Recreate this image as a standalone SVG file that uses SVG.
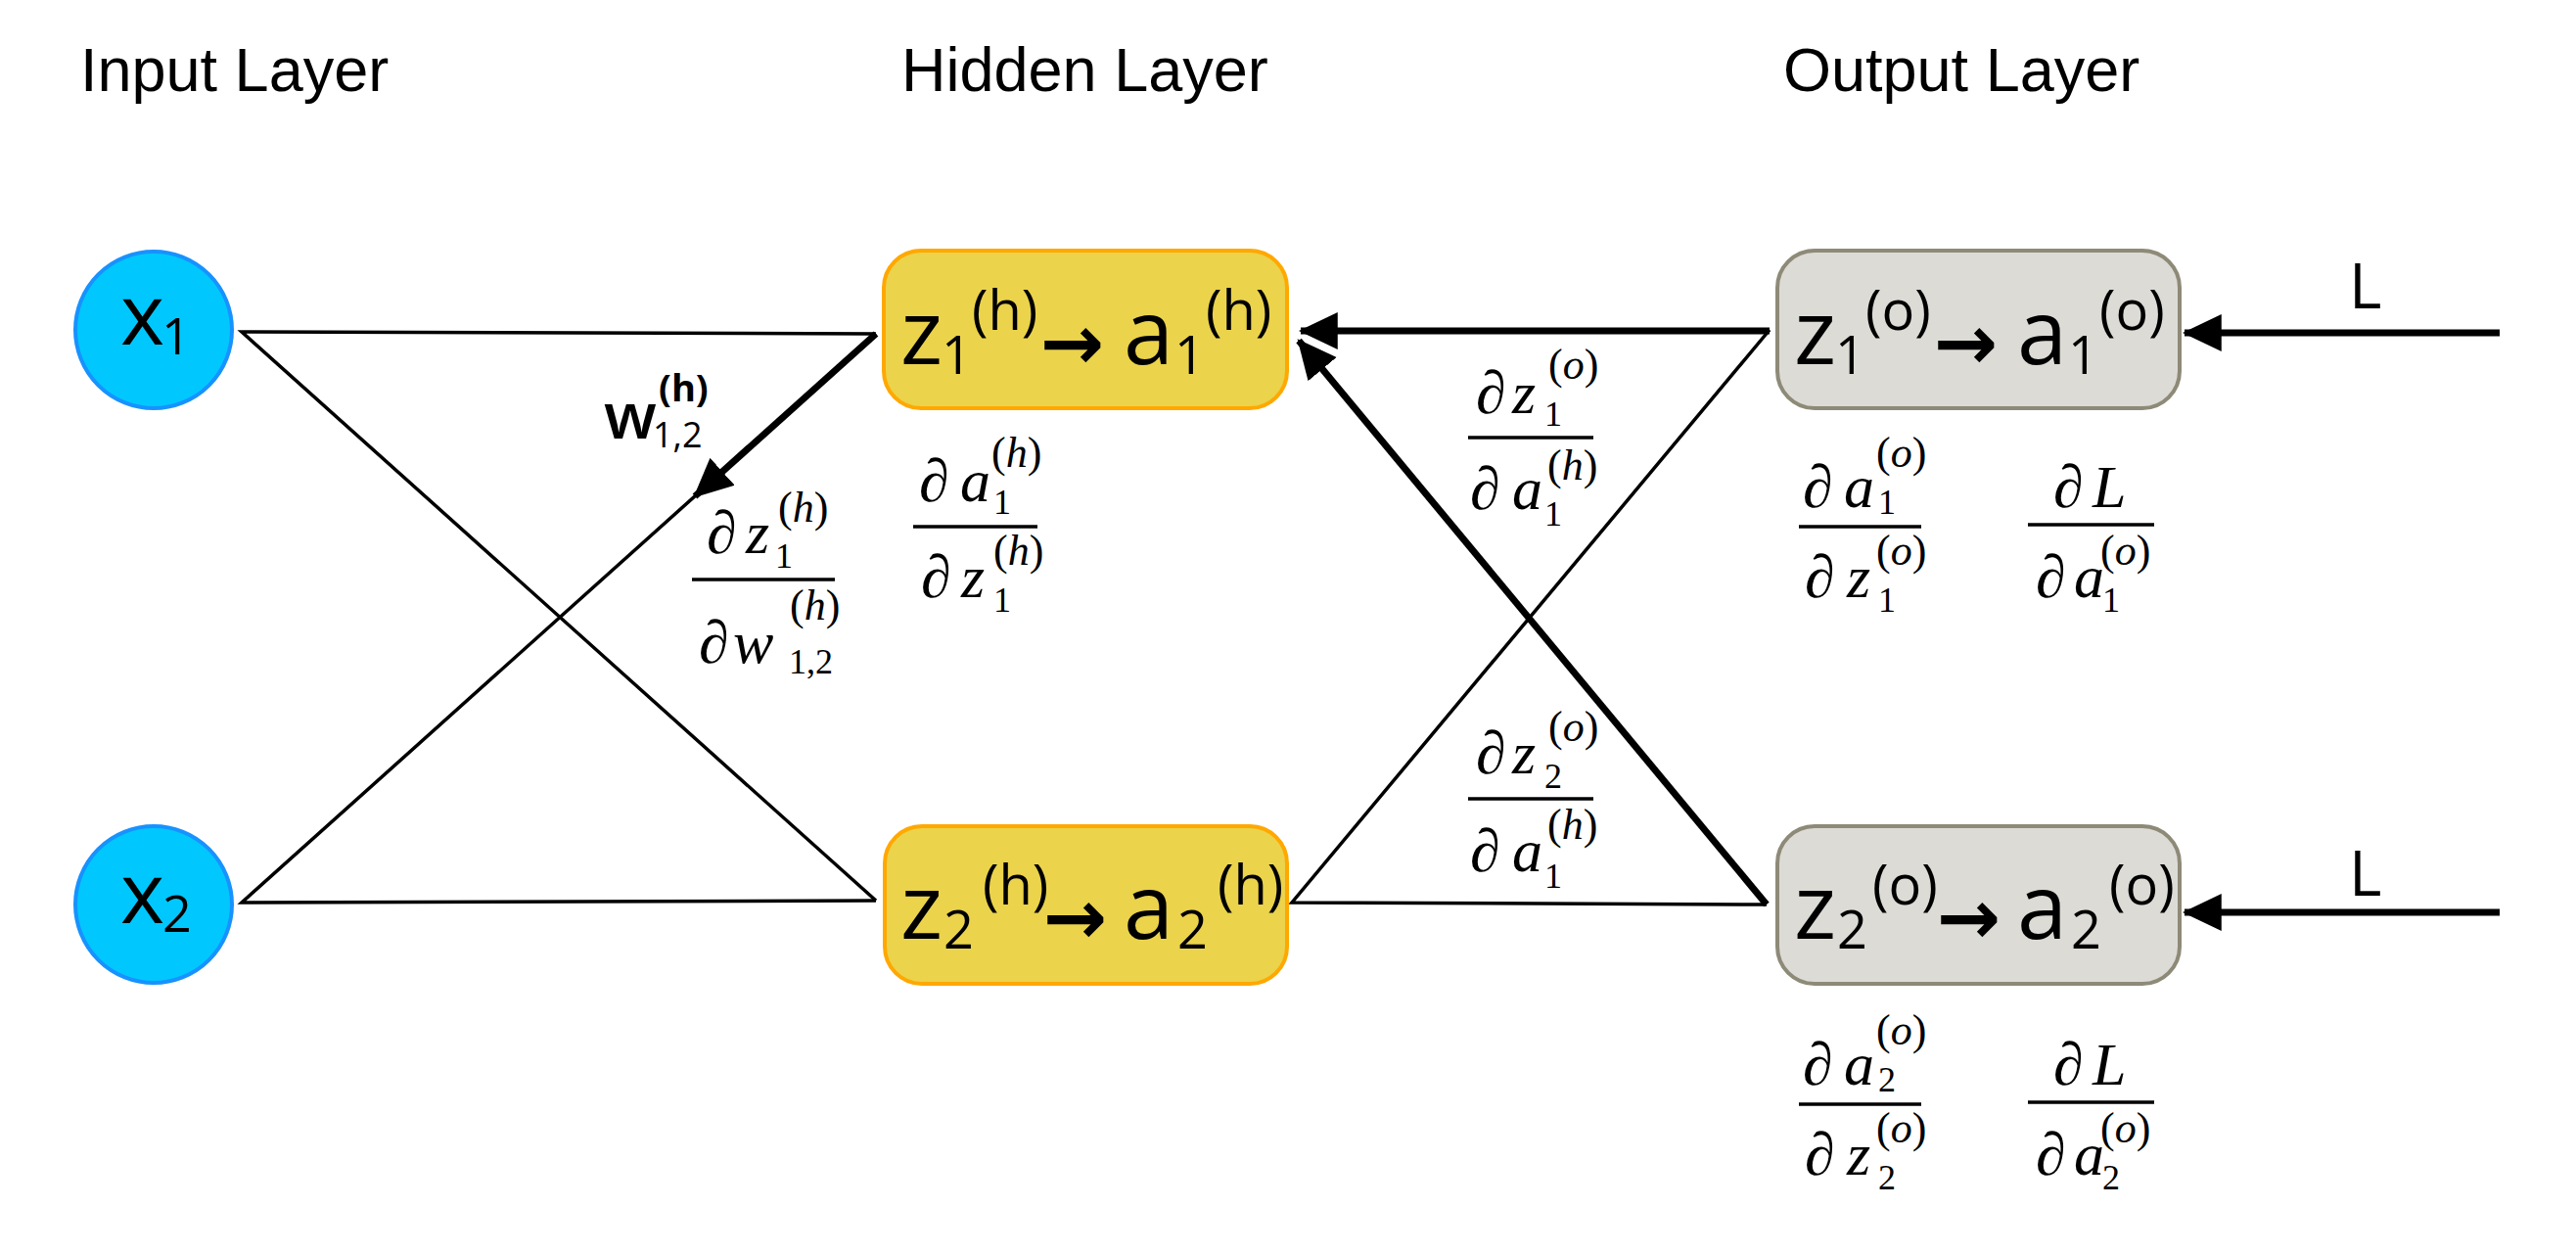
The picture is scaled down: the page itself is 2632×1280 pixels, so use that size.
<svg xmlns="http://www.w3.org/2000/svg" width="2632" height="1280" viewBox="0 0 2632 1280">
<style>
.title{font-family:"Liberation Sans",Arial,sans-serif;font-size:63px;fill:#000}
.nm{font-family:"Open Sans","Noto Sans",sans-serif;font-size:92px;fill:#000}
.ns{font-family:"Open Sans","Noto Sans",sans-serif;font-size:54px;fill:#000}
.np{font-family:"Open Sans","Noto Sans",sans-serif;font-size:56px;fill:#000}
.xm{font-family:"Open Sans","Noto Sans",sans-serif;font-size:86px;fill:#000}
.xs{font-family:"Open Sans","Noto Sans",sans-serif;font-size:52px;fill:#000}
.arr{font-family:"DejaVu Sans",sans-serif;font-size:78px;font-weight:bold;fill:#000}
.fm{font-family:"Liberation Serif","DejaVu Serif",serif;font-size:62px;font-style:italic;fill:#000}
.fs{font-family:"Liberation Serif","DejaVu Serif",serif;font-size:36px;font-style:normal;fill:#000}
.fp{font-family:"Liberation Serif","DejaVu Serif",serif;font-size:44px;font-style:normal;fill:#000}
.it{font-style:italic}
.bar{stroke:#000;stroke-width:3.5}
.in{fill:#00C8FF;stroke:#1792FF;stroke-width:4}
.hid{fill:#EBD34B;stroke:#FFA800;stroke-width:4}
.out{fill:#DCDBD5;stroke:#8E8A78;stroke-width:4}
.thin{fill:none;stroke:#000;stroke-width:3.5;stroke-linejoin:miter}
.thick{fill:none;stroke:#000;stroke-width:7}
.lbl{font-family:"Open Sans","Noto Sans",sans-serif;font-size:64px;fill:#000}
.w{font-family:"Open Sans","Noto Sans",sans-serif;fill:#000}
</style>
<defs>
<marker id="ah" markerUnits="userSpaceOnUse" markerWidth="40" markerHeight="40" viewBox="0 0 36 34" refX="34" refY="17" orient="auto">
<path d="M0,0 L36,17 L0,34 z" fill="#000"/>
</marker>
</defs>
<rect width="2632" height="1280" fill="#fff"/>

<g id="titles">
<text class="title" x="82" y="93">Input Layer</text>
<text class="title" x="921" y="93">Hidden Layer</text>
<text class="title" x="1822" y="93">Output Layer</text>
</g>

<g id="connectors">
<path class="thin" d="M895,341 L247,339 L895,920"/>
<path class="thin" d="M895,341 L247,922 L895,920"/>
<path class="thin" d="M1808,337 L1320,922 L1805,924"/>
<line class="thick" x1="895" y1="341" x2="710" y2="507" marker-end="url(#ah)"/>
<line class="thick" x1="1808" y1="338" x2="1329" y2="338" marker-end="url(#ah)"/>
<line class="thick" x1="1805" y1="924" x2="1327" y2="348" marker-end="url(#ah)"/>
<line class="thick" x1="2554" y1="340" x2="2232" y2="340" marker-end="url(#ah)"/>
<line class="thick" x1="2554" y1="932" x2="2232" y2="932" marker-end="url(#ah)"/>
<text class="lbl" x="2400" y="315">L</text>
<text class="lbl" x="2400" y="915">L</text>
<g id="w-label">
<text class="w" font-size="66" font-weight="600" x="617" y="448">w</text>
<text class="w" font-size="36" x="667" y="457">1,2</text>
<text class="w" font-size="38" font-weight="700" x="673" y="410">(h)</text>
</g>
</g>

<g id="x1">
<circle class="in" cx="157" cy="337" r="80"/>
<text class="xm" x="123" y="352">x</text>
<text class="xs" x="165" y="362">1</text>
</g>
<g id="x2">
<circle class="in" cx="157" cy="924" r="80"/>
<text class="xm" x="123" y="943">x</text>
<text class="xs" x="166" y="952">2</text>
</g>

<g id="h1">
<rect class="hid" x="903" y="256" width="412" height="161" rx="38"/>
<text class="nm" x="920" y="372">z</text>
<text class="ns" x="962" y="382">1</text>
<text class="np" x="993" y="337">(h)</text>
<text class="arr" x="1063" y="377">→</text>
<text class="nm" x="1148" y="372">a</text>
<text class="ns" x="1200" y="382">1</text>
<text class="np" x="1232" y="337">(h)</text>
</g>
<g id="h2">
<rect class="hid" x="904" y="844" width="411" height="161" rx="38"/>
<text class="nm" x="920" y="959">z</text>
<text class="ns" x="964" y="969">2</text>
<text class="np" x="1004" y="924">(h)</text>
<text class="arr" x="1066" y="964">→</text>
<text class="nm" x="1148" y="959">a</text>
<text class="ns" x="1203" y="969">2</text>
<text class="np" x="1244" y="924">(h)</text>
</g>
<g id="o1">
<rect class="out" x="1816" y="256" width="411" height="161" rx="38"/>
<text class="nm" x="1833" y="372">z</text>
<text class="ns" x="1875" y="382">1</text>
<text class="np" x="1906" y="337">(o)</text>
<text class="arr" x="1976" y="377">→</text>
<text class="nm" x="2061" y="372">a</text>
<text class="ns" x="2113" y="382">1</text>
<text class="np" x="2145" y="337">(o)</text>
</g>
<g id="o2">
<rect class="out" x="1816" y="844" width="411" height="161" rx="38"/>
<text class="nm" x="1833" y="959">z</text>
<text class="ns" x="1877" y="969">2</text>
<text class="np" x="1913" y="924">(o)</text>
<text class="arr" x="1979" y="964">→</text>
<text class="nm" x="2061" y="959">a</text>
<text class="ns" x="2116" y="969">2</text>
<text class="np" x="2155" y="924">(o)</text>
</g>

<g id="frac-dz1h-dw12h">
<text class="fm" x="722" y="565">∂</text><text class="fm" x="762" y="565">z</text>
<text class="fs" x="792" y="580">1</text>
<text class="fp" x="795" y="533">(<tspan class="it">h</tspan>)</text>
<line class="bar" x1="707" y1="592" x2="853" y2="592"/>
<text class="fm" x="714" y="677">∂</text><text class="fm" x="749" y="677">w</text>
<text class="fs" x="806" y="688">1,2</text>
<text class="fp" x="807" y="633">(<tspan class="it">h</tspan>)</text>
</g>
<g id="frac-da1h-dz1h">
<text class="fm" x="939" y="512">∂</text><text class="fm" x="981" y="512">a</text>
<text class="fs" x="1015" y="525">1</text>
<text class="fp" x="1013" y="477">(<tspan class="it">h</tspan>)</text>
<line class="bar" x1="933" y1="538" x2="1060" y2="538"/>
<text class="fm" x="941" y="610">∂</text><text class="fm" x="982" y="610">z</text>
<text class="fs" x="1015" y="625">1</text>
<text class="fp" x="1015" y="577">(<tspan class="it">h</tspan>)</text>
</g>
<g id="frac-dz1o-da1h">
<text class="fm" x="1508" y="422">∂</text><text class="fm" x="1545" y="422">z</text>
<text class="fs" x="1578" y="435">1</text>
<text class="fp" x="1582" y="387">(<tspan class="it">o</tspan>)</text>
<line class="bar" x1="1500" y1="447" x2="1628" y2="447"/>
<text class="fm" x="1502" y="520">∂</text><text class="fm" x="1545" y="520">a</text>
<text class="fs" x="1578" y="537">1</text>
<text class="fp" x="1581" y="490">(<tspan class="it">h</tspan>)</text>
</g>
<g id="frac-dz2o-da1h">
<text class="fm" x="1508" y="790">∂</text><text class="fm" x="1545" y="790">z</text>
<text class="fs" x="1578" y="805">2</text>
<text class="fp" x="1582" y="757">(<tspan class="it">o</tspan>)</text>
<line class="bar" x1="1500" y1="816" x2="1628" y2="816"/>
<text class="fm" x="1502" y="890">∂</text><text class="fm" x="1545" y="890">a</text>
<text class="fs" x="1578" y="907">1</text>
<text class="fp" x="1581" y="857">(<tspan class="it">h</tspan>)</text>
</g>
<g id="frac-da1o-dz1o">
<text class="fm" x="1842" y="518">∂</text><text class="fm" x="1884" y="518">a</text>
<text class="fs" x="1919" y="525">1</text>
<text class="fp" x="1917" y="477">(<tspan class="it">o</tspan>)</text>
<line class="bar" x1="1838" y1="538" x2="1963" y2="538"/>
<text class="fm" x="1844" y="610">∂</text><text class="fm" x="1887" y="610">z</text>
<text class="fs" x="1919" y="625">1</text>
<text class="fp" x="1917" y="577">(<tspan class="it">o</tspan>)</text>
</g>
<g id="frac-dL-da1o">
<text class="fm" x="2098" y="518">∂</text><text class="fm" x="2138" y="518">L</text>
<line class="bar" x1="2072" y1="536" x2="2201" y2="536"/>
<text class="fm" x="2080" y="610">∂</text><text class="fm" x="2119" y="610">a</text>
<text class="fs" x="2148" y="625">1</text>
<text class="fp" x="2146" y="577">(<tspan class="it">o</tspan>)</text>
</g>
<g id="frac-da2o-dz2o">
<text class="fm" x="1842" y="1108">∂</text><text class="fm" x="1884" y="1108">a</text>
<text class="fs" x="1919" y="1115">2</text>
<text class="fp" x="1917" y="1067">(<tspan class="it">o</tspan>)</text>
<line class="bar" x1="1838" y1="1128" x2="1963" y2="1128"/>
<text class="fm" x="1844" y="1200">∂</text><text class="fm" x="1887" y="1200">z</text>
<text class="fs" x="1919" y="1215">2</text>
<text class="fp" x="1917" y="1167">(<tspan class="it">o</tspan>)</text>
</g>
<g id="frac-dL-da2o">
<text class="fm" x="2098" y="1108">∂</text><text class="fm" x="2138" y="1108">L</text>
<line class="bar" x1="2072" y1="1126" x2="2201" y2="1126"/>
<text class="fm" x="2080" y="1200">∂</text><text class="fm" x="2119" y="1200">a</text>
<text class="fs" x="2148" y="1215">2</text>
<text class="fp" x="2146" y="1167">(<tspan class="it">o</tspan>)</text>
</g>
</svg>
